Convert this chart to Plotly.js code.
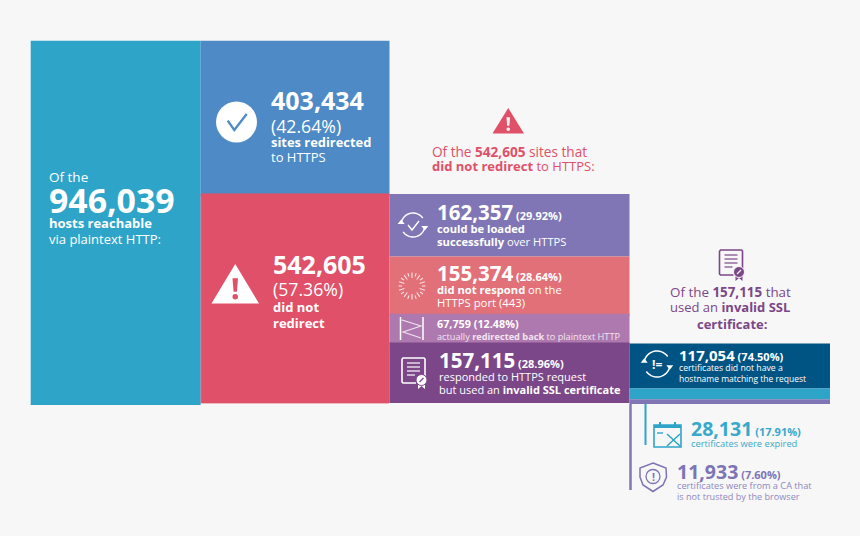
<!DOCTYPE html>
<html><head><meta charset="utf-8">
<script src="https://cdn.plot.ly/plotly-3.0.1.min.js"></script>
<style>html,body{margin:0;padding:0;background:#f7f7f7}</style>
</head><body><div id="chart" style="width:860px;height:536px"></div>
<script>
// ---- data ----
const reachable = [946039];
const redirectSplit = [403434, 542605];
const redirectPct = [42.64, 57.36];
const noRedirectSplit = [162357, 155374, 67759, 157115];
const noRedirectPct = [29.92, 28.64, 12.48, 28.96];
const invalidSslSplit = [117054, 28131, 11933];
const invalidSslPct = [74.50, 17.91, 7.60];

// ---- layout constants ----
const W = 860, H = 536;
const edges = [30.7, 200.7, 389.5, 629.5, 830];   // column edges, px
const plotTop = 40.7, plotBottom = 405;
const k = (plotBottom - plotTop) / reachable[0];  // px per host
const nudge = -5500;                              // second tier starts slightly above scale in the reference
const tier4Nudge = 2600;
const C = {
  teal:'#2ea4c9', blue:'#4d8ac6', red:'#e05068', purple:'#8176b5', salmon:'#e27078',
  lilac:'#ae79af', plum:'#7b4788', navy:'#005483', bar:'#8176b5', white:'#ffffff',
  bg:'#f7f7f7', tealText:'#37a9cb', violetText:'#7d74b6', lineText:'#8f88c0'
};
const fmt = v => v.toLocaleString('en-US');
const pc = v => '(' + v.toFixed(2) + '%)';
const sum = a => a.reduce((s, v) => s + v, 0);
const mid = i => (edges[i] + edges[i + 1]) / 2;
const wid = i => edges[i + 1] - edges[i];

// ---- bars, stacked by base ----
function column(i, values, start, colors, outlines) {
  let acc = start;
  const bases = values.map(v => { const b = acc; acc += v; return b; });
  const lw = outlines || values.map(() => 0);
  return {type:'bar', x:values.map(() => mid(i)), y:values, base:bases,
    width:lw.map(w => wid(i) - w), marker:{color:colors, line:{width:lw, color:colors}},
    hoverinfo:'skip', showlegend:false};
}
const tier3Start = redirectSplit[0] + nudge;
const tier4Start = tier3Start + sum(noRedirectSplit.slice(0, 3)) + tier4Nudge;
const data = [
  column(0, reachable, 0, [C.teal]),
  column(1, redirectSplit.slice(0, 1), 0, [C.blue]),
  column(1, redirectSplit.slice(1), tier3Start, [C.red], [1]),
  column(2, noRedirectSplit, tier3Start, [C.purple, C.salmon, C.lilac, C.plum], [0, 0, 5, 0]),
  column(3, invalidSslSplit, tier4Start, [C.navy, C.teal, C.bar])
];

// ---- helpers in px ----
const px = x => x / W, py = y => 1 - y / H;
const F = 'Open Sans, sans-serif';
const ann = [], shp = [];
function T(x, y, text, size, color, anchor) {
  ann.push({xref:'paper', yref:'paper', x:px(x), y:py(y), text:text, showarrow:false,
    xanchor:anchor || 'left', yanchor:'middle', borderpad:0, borderwidth:0,
    align:anchor === 'center' ? 'center' : 'left',
    font:{family:F, size:size, color:color}});
}
const S = (t, s) => '<span style="font-size:' + s + 'px">' + t + '</span>';
const numPct = (v, p) => '<b>' + fmt(v) + '</b>' + S(' <b>' + pc(p) + '</b>', 11);
function pathOf(pts, closed) {
  return pts.map((p, i) => (i ? 'L' : 'M') + px(p[0]).toFixed(5) + ',' + py(p[1]).toFixed(5)).join(' ') + (closed ? ' Z' : '');
}
function L(pts, color, w, closed) {
  shp.push({type:'path', xref:'paper', yref:'paper', path:pathOf(pts, closed), line:{color:color, width:w}, fillcolor:'rgba(0,0,0,0)', layer:'above'});
}
function P(pts, color) {
  shp.push({type:'path', xref:'paper', yref:'paper', path:pathOf(pts, true), line:{width:0}, fillcolor:color, layer:'above'});
}
function O(cx, cy, r, fill, stroke, w) {
  shp.push({type:'circle', xref:'paper', yref:'paper', x0:px(cx - r), x1:px(cx + r), y0:py(cy + r), y1:py(cy - r),
    fillcolor:fill || 'rgba(0,0,0,0)', line:{color:stroke || 'rgba(0,0,0,0)', width:w || 0}, layer:'above'});
}
function arc(cx, cy, r, a0, a1) {
  const pts = [];
  for (let i = 0; i <= 24; i++) { const a = (a0 + (a1 - a0) * i / 24) * Math.PI / 180; pts.push([cx + r * Math.cos(a), cy + r * Math.sin(a)]); }
  return pts;
}
function warn(x0, x1, yTop, yBase, color, mark) {
  const c = (x0 + x1) / 2, u = (yBase - yTop);
  P([[c, yTop], [x1, yBase], [x0, yBase]], color);
  const h = u * 0.07;
  P([[c - h, yTop + u * .36], [c + h, yTop + u * .36], [c + h * .6, yTop + u * .7], [c - h * .6, yTop + u * .7]], mark);
  O(c, yTop + u * .83, h * 1.0, mark);
}
function sync(cx, cy, r, color, w) {
  L(arc(cx, cy, r, -170, -35), color, w);
  L(arc(cx, cy, r, 10, 145), color, w);
  const a = arc(cx, cy, r, 10, 10)[0];
  P([[a[0] - 3.5, a[1] - 1], [a[0] + 3.5, a[1] - 1], [a[0], a[1] + 3.5]], color);
  const b = arc(cx, cy, r, 190, 190)[0];
  P([[b[0] - 3.5, b[1] + 1], [b[0] + 3.5, b[1] + 1], [b[0], b[1] - 3.5]], color);
}
function cert(x0, y0, stroke, seal) {
  L([[x0, y0 + 1], [x0 + 1, y0], [x0 + 22, y0], [x0 + 23, y0 + 1], [x0 + 23, y0 + 18]], stroke, 1.6);
  L([[x0 + 14, y0 + 25], [x0 + 1, y0 + 25], [x0, y0 + 24], [x0, y0 + 1]], stroke, 1.6);
  [5, 9, 13, 17].forEach((d, i) => L([[x0 + 5, y0 + d], [x0 + (i === 3 ? 13 : 18), y0 + d]], stroke, 1.2));
  P([[x0 + 16, y0 + 24], [x0 + 23, y0 + 24], [x0 + 23, y0 + 31], [x0 + 19.5, y0 + 28], [x0 + 16, y0 + 31]], stroke);
  O(x0 + 19.5, y0 + 22, 5.5, stroke, seal, 1);
  L([[x0 + 17.5, y0 + 24], [x0 + 21.5, y0 + 20]], seal, 1.2);
}

// ---- column 1 ----
T(49, 177, 'Of the', 13.5, C.white);
T(49, 200, '<b>' + fmt(reachable[0]) + '</b>', 33.8, C.white);
T(49, 223, '<b>hosts reachable</b>', 13, C.white);
T(49, 239, 'via plaintext HTTP:', 13, C.white);

// ---- column 2 ----
O(236.5, 122, 20.5, C.white);
L([[227.7, 120.7], [234.3, 130], [246.7, 114]], C.blue, 2.3);
T(271, 100, '<b>' + fmt(redirectSplit[0]) + '</b>', 25, C.white);
T(271, 126, pc(redirectPct[0]), 17.7, C.white);
T(271, 142, '<b>sites redirected</b>', 12.9, C.white);
T(271, 157, 'to HTTPS', 13, C.white);

warn(211.5, 259, 264, 303.5, C.white, C.red);
T(273, 264, '<b>' + fmt(redirectSplit[1]) + '</b>', 25, C.white);
T(273, 289, pc(redirectPct[1]), 17.7, C.white);
T(273, 307, '<b>did not</b>', 13, C.white);
T(273, 323, '<b>redirect</b>', 13, C.white);

// ---- heading above column 3 ----
warn(492.5, 524, 108, 133.5, C.red, C.bg);
T(509.5, 151, 'Of the <b>' + fmt(redirectSplit[1]) + '</b> sites that', 13.6, C.red, 'center');
T(513, 166, '<b>did not redirect</b> to HTTPS:', 13, C.red, 'center');

// ---- column 3 ----
sync(413, 225, 12, C.white, 1.4);
L([[408, 225], [412, 230], [419, 221]], C.white, 1.4);
T(437, 212, numPct(noRedirectSplit[0], noRedirectPct[0]), 20.5, C.white);
T(437, 228, '<b>could be loaded</b>', 11.2, C.white);
T(437, 241, '<b>successfully</b> over HTTPS', 11.2, C.white);

for (let i = 0; i < 20; i++) {
  const a = i * 18 * Math.PI / 180, r0 = i % 2 ? 8 : 10, r1 = 13.5;
  L([[412 + r0 * Math.cos(a), 286 + r0 * Math.sin(a)], [412 + r1 * Math.cos(a), 286 + r1 * Math.sin(a)]], '#fbe3e3', 1.1);
}
T(437, 273, numPct(noRedirectSplit[1], noRedirectPct[1]), 20.5, C.white);
T(437, 289, '<b>did not respond</b> on the', 11.2, C.white);
T(437, 302, 'HTTPS port (443)', 11.3, C.white);

L([[400.5, 317], [400.5, 340]], C.white, 1.5);
L([[423, 317], [423, 340]], C.white, 1.5);
L([[402, 320], [421, 326], [403, 332], [421, 338]], '#f3e4f1', 1.1);
T(437, 323, '<b>' + fmt(noRedirectSplit[2]) + ' ' + pc(noRedirectPct[2]) + '</b>', 10.8, C.white);
T(437, 336, 'actually <b>redirected back</b> to plaintext HTTP', 9.2, '#f3e4f1');

cert(402, 358, C.white, C.plum);
T(439, 360, numPct(noRedirectSplit[3], noRedirectPct[3]), 20.5, C.white);
T(439, 376, 'responded to HTTPS request', 11, C.white);
T(439, 389, 'but used an <b>invalid SSL certificate</b>', 11, C.white);

// ---- heading above column 4 ----
cert(719.5, 250, C.plum, C.bg);
T(730, 292, 'Of the <b>' + fmt(noRedirectSplit[3]) + '</b> that', 13.4, C.plum, 'center');
T(730, 307, 'used an <b>invalid SSL</b>', 13, C.plum, 'center');
T(732, 324, '<b>certificate:</b>', 13, C.plum, 'center');

// ---- column 4 ----
sync(657, 364, 13, C.white, 1.5);
T(657, 364, '<b>!=</b>', 12, C.white, 'center');
T(679, 355, '<b>' + fmt(invalidSslSplit[0]) + '</b>' + S(' <b>' + pc(invalidSslPct[0]) + '</b>', 11), 15, C.white);
T(679, 367.5, 'certificates did not have a', 8.7, C.white);
T(679, 378, 'hostname matching the request', 8.5, C.white);

// ---- connectors and lower notes ----
L([[645.5, 404], [645.5, 445]], C.teal, 2);
L([[630.5, 404], [630.5, 490]], C.bar, 2.5);

L([[654, 425], [681, 425], [681, 447], [654, 447]], C.teal, 1.6, true);
P([[654, 425], [681, 425], [681, 428], [654, 428]], C.teal);
L([[660, 422], [660, 427]], C.teal, 2);
L([[675, 422], [675, 427]], C.teal, 2);
L([[667, 434], [680, 446]], C.teal, 1.5);
L([[680, 434], [667, 446]], C.teal, 1.5);
L([[657, 433], [663, 433]], C.teal, 1.4);
T(691, 428, numPct(invalidSslSplit[1], invalidSslPct[1]), 19.5, C.tealText);
T(691, 443, 'certificates were expired', 9.3, C.tealText);

L([[653, 463], [666, 468], [666.5, 477], [663, 485], [653, 491.5], [643, 485], [640, 477], [640, 468]], C.violetText, 1.5, true);
O(653, 476.5, 7, null, C.violetText, 1.3);
T(653, 476.5, '<b>!</b>', 10.5, C.violetText, 'center');
T(677, 471, numPct(invalidSslSplit[2], invalidSslPct[2]), 19.5, C.violetText);
T(677, 485, 'certificates were from a CA that', 9.2, C.lineText);
T(677, 496, 'is not trusted by the browser', 9.1, C.lineText);

const layout = {
  width:W, height:H, margin:{l:0, r:0, t:0, b:0, pad:0},
  paper_bgcolor:C.bg, plot_bgcolor:C.bg, showlegend:false, barmode:'overlay', bargap:0,
  xaxis:{range:[0, W], visible:false, fixedrange:true},
  yaxis:{range:[(H - plotTop) / k, -plotTop / k], visible:false, fixedrange:true},
  annotations:ann, shapes:shp, font:{family:F}
};
Plotly.newPlot('chart', data, layout, {displayModeBar:false, staticPlot:true});
</script></body></html>
